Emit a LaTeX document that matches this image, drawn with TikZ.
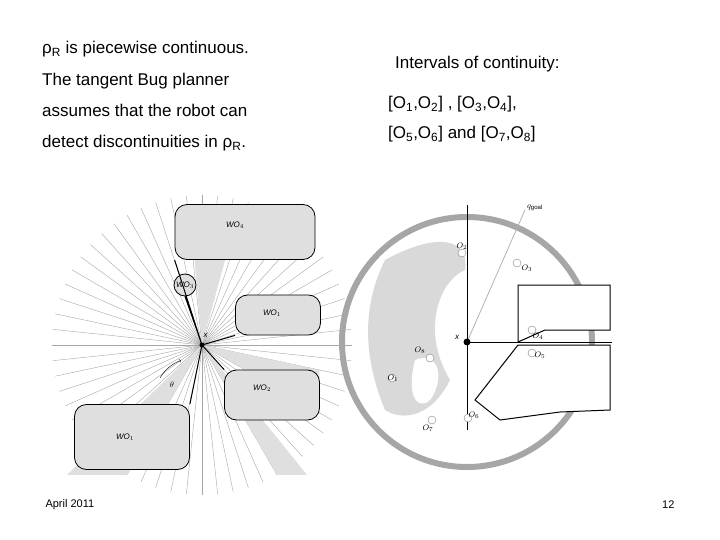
\documentclass[tikz,border=0pt]{standalone}
\usepackage{fontspec}
\setmainfont{Liberation Sans}
\begin{document}
\begin{tikzpicture}[x=1pt,y=-1pt,
  txt/.style={anchor=base west,font=\fontsize{17}{20}\selectfont,inner sep=0},
  sm/.style={font=\fontsize{8}{9}\selectfont\itshape,inner sep=0.5},
  obs/.style={draw=black,line width=0.8,fill=gray!25,rounded corners=12},
  ray/.style={gray!70,line width=0.4}]
\useasboundingbox (0,0) rectangle (720,540);
\node[txt] (t1) at (42,54) {ρ\textsubscript{R} is piecewise continuous.};
\node[txt] (t2) at (42,86) {The tangent Bug planner};
\node[txt] (t3) at (42,117) {assumes that the robot can};
\node[txt] (t4) at (42,148) {detect discontinuities in ρ\textsubscript{R}.};
\node[txt] (r1) at (395,69) {Intervals of continuity:};
\node[txt] (r2) at (388,109) {[O\textsubscript{1},O\textsubscript{2}] , [O\textsubscript{3},O\textsubscript{4}],};
\node[txt] (r3) at (388,139) {[O\textsubscript{5},O\textsubscript{6}] and [O\textsubscript{7},O\textsubscript{8}]};
\node[anchor=west,font=\fontsize{11}{13}\selectfont] (d) at (42,505) {April 2011};
\node[anchor=east,font=\fontsize{11}{13}\selectfont] (n) at (678,505) {12};
% left figure
\coordinate (x) at (202,345);
\foreach \a in {0,6,...,354} \draw[ray] (x) -- ++(\a:150);
\fill[gray!25] (x) -- ++(-95:140) -- ++(0:50) -- cycle;
\fill[gray!25] (x) -- ++(12:120) -- ++(90:40) -- cycle;
\fill[gray!25] (x) -- ++(60:150) -- ++(0:30) -- cycle;
\fill[gray!25] (x) -- ++(120:150) -- ++(180:60) -- cycle;
\node[obs,minimum width=140,minimum height=55] (w4) at (245,232) {};
\node[sm] at (235,225) {WO$_4$};
\node[obs,circle,minimum size=22] (w3) at (185,285) {};
\node[sm] at (185,285) {WO$_3$};
\node[obs,minimum width=85,minimum height=40] (w1r) at (278,315) {};
\node[sm] at (272,313) {WO$_1$};
\node[obs,minimum width=95,minimum height=50] (w2) at (272,395) {};
\node[sm] at (262,388) {WO$_2$};
\node[obs,minimum width=115,minimum height=65] (w1) at (132,437) {};
\node[sm] at (125,437) {WO$_1$};
\draw[line width=1] (x) -- (w4.south west) (x) -- (w3.south) (x) -- (w1r.south west) (x) -- (w2.north west) (x) -- (w1.north east);
\fill (x) circle (2.5); \node[sm,anchor=south west] at (203,338) {x};
\draw[->] (160,378) arc (210:250:40); \node[sm] at (172,385) {$\theta$};
% right figure
\coordinate (y) at (467,342);
\draw[gray!70,line width=6] (y) circle (125);
\fill[gray!30] (385,260) .. controls (440,230) and (470,240) .. (465,270) .. controls (440,280) and (420,330) .. (450,380) .. controls (430,420) and (400,420) .. (385,410) .. controls (360,350) and (365,300) .. cycle;
\fill[white] (415,360) .. controls (440,350) and (445,380) .. (430,400) .. controls (420,410) and (405,400) .. (415,360);
\draw[line width=0.8] (y) -- (612,342) (y) -- (467,205) (y) -- (467,430);
\draw[gray!60,line width=0.8] (y) -- (525,210);
\node[sm] at (535,208) {$q_{\rm goal}$};
\fill[white,draw=black,line width=1] (518,285) -- (610,285) -- (610,330) -- (545,330) -- (518,342) -- cycle;
\fill[white,draw=black,line width=1] (518,345) -- (610,345) -- (610,410) -- (560,412) -- (500,420) -- (475,400) -- cycle;
\draw[line width=1] (y) -- (518,342);
\fill (y) circle (3.5); \node[sm] at (457,337) {x};
\foreach \p/\l/\q in {{(462,253)}/O_2/{(462,246)},{(517,263)}/O_3/{(527,268)},{(532,330)}/O_4/{(538,336)},{(532,353)}/O_5/{(540,355)},{(468,418)}/O_6/{(474,415)},{(432,420)}/O_7/{(428,428)},{(392,378)}/O_1/{(393,378)},{(430,358)}/O_8/{(420,350)}}
  {\fill[white,draw=gray] \p circle (4); \node[sm] at \q {$\l$};}
\end{tikzpicture}
\end{document}
